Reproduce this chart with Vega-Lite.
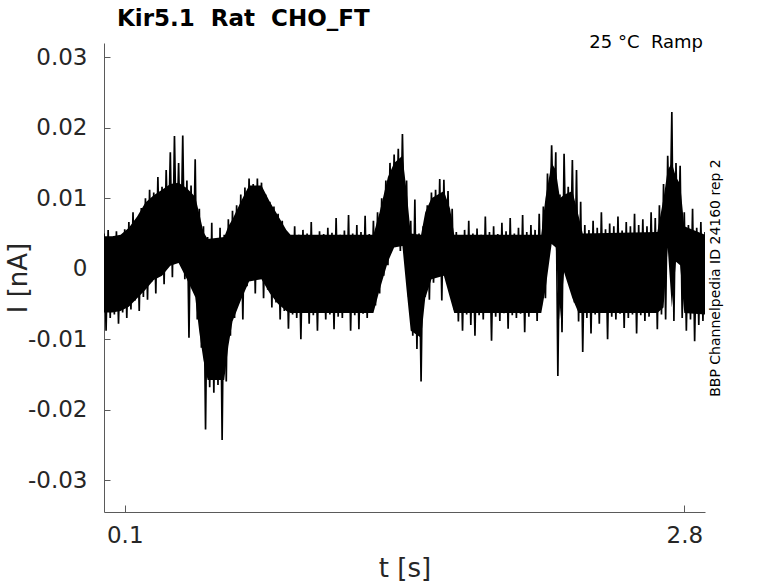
{
  "$schema": "https://vega.github.io/schema/vega-lite/v6.json",
  "autosize": "none",
  "padding": {"left": 104, "top": 43, "right": 73, "bottom": 71},
  "width": 601,
  "height": 469,
  "background": "white",
  "title": {
    "text": "Kir5.1\u00a0 Rat\u00a0 CHO_FT",
    "anchor": "start",
    "frame": "group",
    "dx": 13,
    "dy": 22,
    "offset": 7,
    "baseline": "alphabetic",
    "font": "DejaVu Sans",
    "fontSize": 23,
    "fontWeight": "bold",
    "color": "black"
  },
  "layer": [
    {
      "data": {
        "values": [
          {"t":0.00,"lo":-0.0062,"hi":0.0046},{"t":0.04,"lo":-0.0062,"hi":0.0046},{"t":0.08,"lo":-0.0060,"hi":0.0048},
          {"t":0.12,"lo":-0.0054,"hi":0.0058},{"t":0.16,"lo":-0.0042,"hi":0.0074},{"t":0.20,"lo":-0.0030,"hi":0.0094},
          {"t":0.24,"lo":-0.0016,"hi":0.0104},{"t":0.28,"lo":-0.0010,"hi":0.0112},{"t":0.32,"lo":0.0004,"hi":0.0120},
          {"t":0.36,"lo":0.0008,"hi":0.0122},{"t":0.40,"lo":-0.0015,"hi":0.0114},{"t":0.44,"lo":-0.0040,"hi":0.0102},
          {"t":0.46,"lo":-0.0090,"hi":0.0078},{"t":0.48,"lo":-0.0130,"hi":0.0052},{"t":0.50,"lo":-0.0158,"hi":0.0042},
          {"t":0.58,"lo":-0.0158,"hi":0.0045},{"t":0.60,"lo":-0.0110,"hi":0.0060},{"t":0.62,"lo":-0.0075,"hi":0.0070},
          {"t":0.66,"lo":-0.0045,"hi":0.0095},{"t":0.70,"lo":-0.0018,"hi":0.0118},{"t":0.76,"lo":-0.0015,"hi":0.0118},
          {"t":0.80,"lo":-0.0035,"hi":0.0095},{"t":0.84,"lo":-0.0050,"hi":0.0075},{"t":0.88,"lo":-0.0060,"hi":0.0055},
          {"t":0.90,"lo":-0.0063,"hi":0.0048},{"t":1.30,"lo":-0.0063,"hi":0.0048},{"t":1.33,"lo":-0.0030,"hi":0.0080},
          {"t":1.37,"lo":0.0010,"hi":0.0130},{"t":1.40,"lo":0.0030,"hi":0.0150},{"t":1.44,"lo":0.0032,"hi":0.0160},
          {"t":1.46,"lo":-0.0030,"hi":0.0110},{"t":1.48,"lo":-0.0088,"hi":0.0050},{"t":1.53,"lo":-0.0098,"hi":0.0048},
          {"t":1.55,"lo":-0.0042,"hi":0.0080},{"t":1.58,"lo":-0.0015,"hi":0.0100},{"t":1.64,"lo":-0.0010,"hi":0.0110},
          {"t":1.67,"lo":-0.0042,"hi":0.0085},{"t":1.69,"lo":-0.0063,"hi":0.0048},{"t":2.11,"lo":-0.0063,"hi":0.0048},
          {"t":2.13,"lo":-0.0030,"hi":0.0100},{"t":2.16,"lo":0.0035,"hi":0.0150},{"t":2.18,"lo":0.0030,"hi":0.0140},
          {"t":2.20,"lo":-0.0072,"hi":0.0100},{"t":2.22,"lo":-0.0005,"hi":0.0105},{"t":2.26,"lo":-0.0042,"hi":0.0110},
          {"t":2.29,"lo":-0.0063,"hi":0.0075},{"t":2.31,"lo":-0.0063,"hi":0.0050},{"t":2.67,"lo":-0.0063,"hi":0.0052},
          {"t":2.70,"lo":-0.0055,"hi":0.0100},{"t":2.72,"lo":0.0030,"hi":0.0140},{"t":2.74,"lo":-0.0055,"hi":0.0150},
          {"t":2.76,"lo":0.0010,"hi":0.0130},{"t":2.78,"lo":0.0005,"hi":0.0120},{"t":2.80,"lo":-0.0063,"hi":0.0060},
          {"t":2.90,"lo":-0.0065,"hi":0.0048}
        ]
      },
      "mark": {"type": "area", "color": "black", "opacity": 1, "clip": true},
      "encoding": {
        "x": {
          "field": "t",
          "type": "quantitative",
          "scale": {"domain": [0, 2.9], "nice": false, "zero": false},
          "axis": {
            "title": "t [s]",
            "values": [0.1, 2.8],
            "format": ".1f",
            "grid": false,
            "tickSize": -7,
            "labelPadding": 19,
            "titlePadding": 8
          }
        },
        "y": {
          "field": "lo",
          "type": "quantitative",
          "scale": {"domain": [-0.0345, 0.032], "nice": false, "zero": false},
          "axis": {
            "orient": "left",
            "title": "I [nA]",
            "values": [-0.03, -0.02, -0.01, 0, 0.01, 0.02, 0.03],
            "labelExpr": "datum.value == 0 ? '0' : (datum.value < 0 ? '-' : '') + format(abs(datum.value), '.2f')",
            "grid": false,
            "tickSize": -6,
            "labelPadding": 23,
            "titlePadding": -4
          }
        },
        "y2": {"field": "hi"}
      }
    },
    {
      "data": {
        "values": [
          {"t":0.00,"i":0.0050},{"t":0.01,"i":-0.0088},{"t":0.02,"i":0.0055},{"t":0.03,"i":-0.0070},{"t":0.04,"i":0.0042},
          {"t":0.05,"i":-0.0065},{"t":0.06,"i":0.0053},{"t":0.07,"i":-0.0078},{"t":0.08,"i":0.0047},{"t":0.09,"i":-0.0062},
          {"t":0.10,"i":0.0056},{"t":0.11,"i":-0.0070},{"t":0.12,"i":0.0066},{"t":0.13,"i":-0.0058},{"t":0.14,"i":0.0080},
          {"t":0.15,"i":-0.0045},{"t":0.16,"i":0.0072},{"t":0.17,"i":-0.0060},{"t":0.18,"i":0.0086},{"t":0.19,"i":-0.0040},
          {"t":0.20,"i":0.0100},{"t":0.21,"i":-0.0044},{"t":0.22,"i":0.0112},{"t":0.23,"i":-0.0018},{"t":0.24,"i":0.0108},
          {"t":0.25,"i":-0.0035},{"t":0.26,"i":0.0130},{"t":0.27,"i":-0.0010},{"t":0.28,"i":0.0116},{"t":0.29,"i":-0.0022},
          {"t":0.30,"i":0.0140},{"t":0.31,"i":0.0030},{"t":0.32,"i":0.0165},{"t":0.33,"i":-0.0012},{"t":0.34,"i":0.0188},
          {"t":0.35,"i":0.0022},{"t":0.36,"i":0.0150},{"t":0.37,"i":0.0010},{"t":0.38,"i":0.0189},{"t":0.39,"i":-0.0015},
          {"t":0.40,"i":0.0125},{"t":0.41,"i":-0.0098},{"t":0.42,"i":0.0118},{"t":0.43,"i":-0.0030},{"t":0.44,"i":0.0155},
          {"t":0.45,"i":-0.0072},{"t":0.46,"i":0.0085},{"t":0.47,"i":-0.0112},{"t":0.48,"i":0.0060},{"t":0.49,"i":-0.0228},
          {"t":0.50,"i":0.0045},{"t":0.51,"i":-0.0168},{"t":0.52,"i":0.0065},{"t":0.53,"i":-0.0176},{"t":0.54,"i":0.0040},
          {"t":0.55,"i":-0.0165},{"t":0.56,"i":0.0058},{"t":0.57,"i":-0.0243},{"t":0.58,"i":0.0048},{"t":0.59,"i":-0.0160},
          {"t":0.60,"i":0.0070},{"t":0.61,"i":-0.0095},{"t":0.62,"i":0.0082},{"t":0.63,"i":-0.0070},{"t":0.64,"i":0.0090},
          {"t":0.65,"i":-0.0045},{"t":0.66,"i":0.0105},{"t":0.67,"i":-0.0072},{"t":0.68,"i":0.0115},{"t":0.69,"i":-0.0025},
          {"t":0.70,"i":0.0128},{"t":0.71,"i":-0.0012},{"t":0.72,"i":0.0120},{"t":0.73,"i":-0.0035},{"t":0.74,"i":0.0128},
          {"t":0.75,"i":-0.0008},{"t":0.76,"i":0.0122},{"t":0.77,"i":-0.0042},{"t":0.78,"i":0.0105},{"t":0.79,"i":-0.0030},
          {"t":0.80,"i":0.0095},{"t":0.81,"i":-0.0055},{"t":0.82,"i":0.0088},{"t":0.83,"i":-0.0048},{"t":0.84,"i":0.0078},
          {"t":0.85,"i":-0.0072},{"t":0.86,"i":0.0068},{"t":0.87,"i":-0.0060},{"t":0.88,"i":0.0052},{"t":0.89,"i":-0.0085},
          {"t":0.90,"i":0.0045},{"t":0.91,"i":-0.0065},{"t":0.92,"i":0.0060},{"t":0.93,"i":-0.0070},{"t":0.94,"i":0.0048},
          {"t":0.95,"i":-0.0100},{"t":0.96,"i":0.0055},{"t":0.97,"i":-0.0062},{"t":0.98,"i":0.0050},{"t":0.99,"i":-0.0078},
          {"t":1.00,"i":0.0066},{"t":1.01,"i":-0.0066},{"t":1.02,"i":0.0046},{"t":1.03,"i":-0.0088},{"t":1.04,"i":0.0053},
          {"t":1.05,"i":-0.0060},{"t":1.06,"i":0.0049},{"t":1.07,"i":-0.0072},{"t":1.08,"i":0.0058},{"t":1.09,"i":-0.0065},
          {"t":1.10,"i":0.0051},{"t":1.11,"i":-0.0086},{"t":1.12,"i":0.0072},{"t":1.13,"i":-0.0068},{"t":1.14,"i":0.0048},
          {"t":1.15,"i":-0.0070},{"t":1.16,"i":0.0054},{"t":1.17,"i":-0.0062},{"t":1.18,"i":0.0076},{"t":1.19,"i":-0.0088},
          {"t":1.20,"i":0.0050},{"t":1.21,"i":-0.0066},{"t":1.22,"i":0.0062},{"t":1.23,"i":-0.0086},{"t":1.24,"i":0.0052},
          {"t":1.25,"i":-0.0064},{"t":1.26,"i":0.0075},{"t":1.27,"i":-0.0070},{"t":1.28,"i":0.0049},{"t":1.29,"i":-0.0060},
          {"t":1.30,"i":0.0068},{"t":1.31,"i":-0.0052},{"t":1.32,"i":0.0080},{"t":1.33,"i":-0.0035},{"t":1.34,"i":0.0100},
          {"t":1.35,"i":-0.0010},{"t":1.36,"i":0.0125},{"t":1.37,"i":0.0005},{"t":1.38,"i":0.0150},{"t":1.39,"i":0.0030},
          {"t":1.40,"i":0.0162},{"t":1.41,"i":0.0036},{"t":1.42,"i":0.0170},{"t":1.43,"i":0.0025},{"t":1.44,"i":0.0191},
          {"t":1.45,"i":0.0040},{"t":1.46,"i":0.0125},{"t":1.47,"i":-0.0040},{"t":1.48,"i":0.0068},{"t":1.49,"i":-0.0095},
          {"t":1.50,"i":0.0098},{"t":1.51,"i":-0.0114},{"t":1.52,"i":0.0050},{"t":1.53,"i":-0.0160},{"t":1.54,"i":0.0060},
          {"t":1.55,"i":-0.0040},{"t":1.56,"i":0.0090},{"t":1.57,"i":-0.0044},{"t":1.58,"i":0.0108},{"t":1.59,"i":-0.0020},
          {"t":1.60,"i":0.0112},{"t":1.61,"i":-0.0010},{"t":1.62,"i":0.0127},{"t":1.63,"i":-0.0045},{"t":1.64,"i":0.0126},
          {"t":1.65,"i":-0.0006},{"t":1.66,"i":0.0110},{"t":1.67,"i":-0.0025},{"t":1.68,"i":0.0085},{"t":1.69,"i":-0.0058},
          {"t":1.70,"i":0.0052},{"t":1.71,"i":-0.0075},{"t":1.72,"i":0.0046},{"t":1.73,"i":-0.0088},{"t":1.74,"i":0.0055},
          {"t":1.75,"i":-0.0065},{"t":1.76,"i":0.0068},{"t":1.77,"i":-0.0080},{"t":1.78,"i":0.0050},{"t":1.79,"i":-0.0095},
          {"t":1.80,"i":0.0057},{"t":1.81,"i":-0.0066},{"t":1.82,"i":0.0048},{"t":1.83,"i":-0.0072},{"t":1.84,"i":0.0074},
          {"t":1.85,"i":-0.0062},{"t":1.86,"i":0.0052},{"t":1.87,"i":-0.0102},{"t":1.88,"i":0.0060},{"t":1.89,"i":-0.0068},
          {"t":1.90,"i":0.0049},{"t":1.91,"i":-0.0074},{"t":1.92,"i":0.0065},{"t":1.93,"i":-0.0063},{"t":1.94,"i":0.0053},
          {"t":1.95,"i":-0.0085},{"t":1.96,"i":0.0072},{"t":1.97,"i":-0.0066},{"t":1.98,"i":0.0050},{"t":1.99,"i":-0.0070},
          {"t":2.00,"i":0.0058},{"t":2.01,"i":-0.0064},{"t":2.02,"i":0.0076},{"t":2.03,"i":-0.0090},{"t":2.04,"i":0.0052},
          {"t":2.05,"i":-0.0068},{"t":2.06,"i":0.0062},{"t":2.07,"i":-0.0060},{"t":2.08,"i":0.0055},{"t":2.09,"i":-0.0074},
          {"t":2.10,"i":0.0078},{"t":2.11,"i":-0.0052},{"t":2.12,"i":0.0088},{"t":2.13,"i":-0.0042},{"t":2.14,"i":0.0135},
          {"t":2.15,"i":0.0030},{"t":2.16,"i":0.0175},{"t":2.17,"i":0.0048},{"t":2.18,"i":0.0165},{"t":2.19,"i":-0.0152},
          {"t":2.20,"i":0.0105},{"t":2.21,"i":-0.0090},{"t":2.22,"i":0.0163},{"t":2.23,"i":0.0005},{"t":2.24,"i":0.0116},
          {"t":2.25,"i":-0.0010},{"t":2.26,"i":0.0154},{"t":2.27,"i":-0.0048},{"t":2.28,"i":0.0140},{"t":2.29,"i":-0.0075},
          {"t":2.30,"i":0.0095},{"t":2.31,"i":-0.0118},{"t":2.32,"i":0.0062},{"t":2.33,"i":-0.0070},{"t":2.34,"i":0.0055},
          {"t":2.35,"i":-0.0092},{"t":2.36,"i":0.0068},{"t":2.37,"i":-0.0065},{"t":2.38,"i":0.0058},{"t":2.39,"i":-0.0078},
          {"t":2.40,"i":0.0080},{"t":2.41,"i":-0.0062},{"t":2.42,"i":0.0056},{"t":2.43,"i":-0.0100},{"t":2.44,"i":0.0064},
          {"t":2.45,"i":-0.0068},{"t":2.46,"i":0.0060},{"t":2.47,"i":-0.0072},{"t":2.48,"i":0.0074},{"t":2.49,"i":-0.0064},
          {"t":2.50,"i":0.0054},{"t":2.51,"i":-0.0084},{"t":2.52,"i":0.0066},{"t":2.53,"i":-0.0070},{"t":2.54,"i":0.0060},
          {"t":2.55,"i":-0.0065},{"t":2.56,"i":0.0078},{"t":2.57,"i":-0.0092},{"t":2.58,"i":0.0062},{"t":2.59,"i":-0.0066},
          {"t":2.60,"i":0.0070},{"t":2.61,"i":-0.0074},{"t":2.62,"i":0.0060},{"t":2.63,"i":-0.0068},{"t":2.64,"i":0.0080},
          {"t":2.65,"i":-0.0062},{"t":2.66,"i":0.0072},{"t":2.67,"i":-0.0086},{"t":2.68,"i":0.0090},{"t":2.69,"i":-0.0065},
          {"t":2.70,"i":0.0120},{"t":2.71,"i":-0.0072},{"t":2.72,"i":0.0160},{"t":2.73,"i":0.0037},{"t":2.74,"i":0.0222},
          {"t":2.75,"i":-0.0074},{"t":2.76,"i":0.0150},{"t":2.77,"i":0.0017},{"t":2.78,"i":0.0146},{"t":2.79,"i":-0.0070},
          {"t":2.80,"i":0.0080},{"t":2.81,"i":-0.0088},{"t":2.82,"i":0.0062},{"t":2.83,"i":-0.0072},{"t":2.84,"i":0.0085},
          {"t":2.85,"i":-0.0103},{"t":2.86,"i":0.0058},{"t":2.87,"i":-0.0080},{"t":2.88,"i":0.0066},{"t":2.89,"i":-0.0074},
          {"t":2.90,"i":0.0052}
        ]
      },
      "mark": {"type": "line", "color": "black", "strokeWidth": 1.7, "clip": true},
      "encoding": {
        "x": {"field": "t", "type": "quantitative"},
        "y": {"field": "i", "type": "quantitative", "axis": null}
      }
    },
    {
      "data": {"values": [{"label": "25 °C\u00a0 Ramp"}]},
      "mark": {
        "type": "text",
        "align": "right",
        "baseline": "alphabetic",
        "dx": -2,
        "dy": 5,
        "font": "DejaVu Sans",
        "fontSize": 18,
        "color": "black"
      },
      "encoding": {
        "x": {"datum": 2.9, "type": "quantitative"},
        "y": {
          "datum": 0.032,
          "type": "quantitative",
          "axis": {
            "orient": "right",
            "title": "BBP Channelpedia ID 24160 rep 2",
            "titleAngle": 270,
            "titleFontSize": 14,
            "titleFontWeight": "normal",
            "titleColor": "black",
            "titlePadding": 17,
            "labels": false,
            "ticks": false,
            "domain": false,
            "grid": false
          }
        },
        "text": {"field": "label"}
      }
    }
  ],
  "resolve": {"axis": {"y": "independent"}},
  "config": {
    "view": {"stroke": null},
    "font": "DejaVu Sans",
    "axis": {
      "domainColor": "#5a5a5a",
      "domainWidth": 1,
      "tickColor": "#5a5a5a",
      "tickWidth": 1,
      "labelFont": "DejaVu Sans",
      "labelFontSize": 23,
      "labelColor": "#262626",
      "titleFont": "DejaVu Sans",
      "titleFontSize": 26,
      "titleFontWeight": "normal",
      "titleColor": "#262626"
    }
  }
}
